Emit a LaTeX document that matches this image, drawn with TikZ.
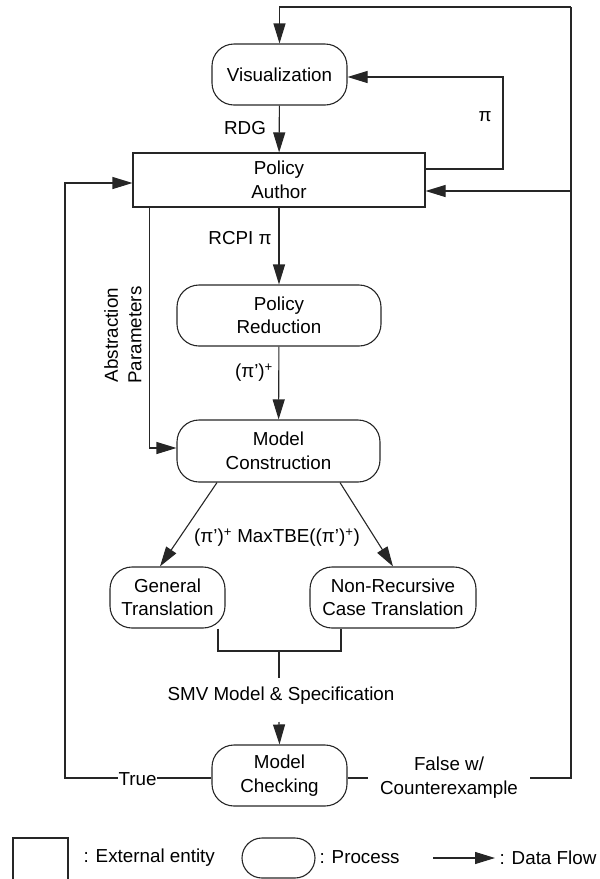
\documentclass[tikz,border=0pt]{standalone}
\usepackage{fontspec}
\setmainfont{Liberation Sans}
\usetikzlibrary{arrows.meta}

\begin{document}
\begin{tikzpicture}[
    x=1pt, y=-1pt,
    line width=1.1pt,
    every node/.style={font=\fontsize{18.8}{23.5}\selectfont, inner sep=0pt},
    line/.style={draw=black!85},
    flow/.style={draw=black!85, -{Triangle[length=20pt,width=12pt]}},
    proc/.style={draw=black!85, rounded corners=22pt, align=center},
    entity/.style={draw=black!85, rectangle, align=center},
    lbl/.style={align=center},
    cut/.style={fill=white, inner xsep=1pt, inner ysep=2pt, align=center}
  ]
  \useasboundingbox (0,0) rectangle (600,879);

  % processes and entity
  \node[proc, minimum width=135pt, minimum height=61pt] (vis) at (279.5,74.5) {Visualization};
  \node[entity, minimum width=292pt, minimum height=54pt] (pa) at (279,180) {Policy\\Author};
  \node[proc, minimum width=204pt, minimum height=61pt] (pr) at (279,315.5) {Policy\\Reduction};
  \node[proc, minimum width=203pt, minimum height=62pt] (mc) at (278.5,451) {Model\\Construction};
  \node[proc, minimum width=115pt, minimum height=61pt] (gt) at (167.5,597.5) {General\\Translation};
  \node[proc, minimum width=166pt, minimum height=61pt] (nr) at (393,597.5) {Non-Recursive\\Case Translation};
  \node[proc, minimum width=135pt, minimum height=61pt] (chk) at (279.5,775.5) {Model\\Checking};

  % main downward flow
  \draw[flow] (vis) -- (pa);
  \node[lbl] (rdg) at (245,128) {RDG};
  \draw[flow] (pa) -- (pr);
  \node[lbl] (rcpi) at (240,238) {RCPI π};
  \draw[flow] (pr) -- (mc);
  \node[lbl] (pip) at (254,373) {(π’)\textsuperscript{+}};

  % abstraction parameters
  \draw[flow] ([xshift=17pt]pa.south west) |- ([yshift=3pt]mc.west);
  \node[lbl, rotate=90] (abs) at (123,335) {Abstraction\\Parameters};

  % branch to the two translations
  \draw[flow] ([xshift=-61.5pt]mc.south) -- ([xshift=-7.5pt]gt.north);
  \draw[flow] ([xshift=61.5pt]mc.south) -- (nr.north);
  \node[lbl] (tbe) at (277,538) {(π’)\textsuperscript{+} MaxTBE((π’)\textsuperscript{+})};

  % merge into the model checker
  \coordinate (jl) at (218,651);
  \coordinate (jr) at (341,651);
  \coordinate (jm) at (279,651);
  \coordinate (jb) at (279,678);
  \coordinate (ja) at (279,722);
  \draw[line] ([xshift=50.5pt]gt.south) -- (jl) -- (jr) -- ([xshift=-52pt]nr.south);
  \draw[line] (jm) -- (jb);
  \node[lbl] (smv) at (281,696) {SMV Model \& Specification};
  \draw[flow] (ja) -- (chk.north);

  % feedback from policy author to visualization
  \coordinate (pic) at (503,77);
  \draw[flow] ([yshift=11pt]pa.east) -| (pic) -- ([yshift=-2.5pt]vis.east);
  \node[lbl] (pi) at (485,117) {π};

  % true: back to the policy author
  \coordinate (tl) at (65,778);
  \draw[flow] ([yshift=-2.5pt]chk.west) -- (tl) |- ([yshift=-3pt]pa.west);
  \node[cut] (true) at (137.5,779) {True};

  % false with counterexample: back to author and visualization
  \coordinate (fr) at (571,778);
  \coordinate (ft) at (571,7);
  \coordinate (fb) at (571,191);
  \draw[line] ([yshift=-2.5pt]chk.east) -- (fr) -- (ft);
  \draw[flow] (ft) -| (vis.north);
  \draw[flow] (fb) -- ([yshift=-11pt]pa.east);
  \node[cut, inner xsep=12pt] (false) at (449,777.5) {False w/\\Counterexample};

  % legend
  \draw[line] (13,882) -- (13,838) -- (68,838) -- (68,882);
  \node[anchor=west] (lext) at (83,858) {: External entity};
  \draw[line, rounded corners=20pt] (242,838) rectangle (315,878);
  \node[anchor=west] (lproc) at (319,857) {: Process};
  \coordinate (la) at (433,858);
  \coordinate (lb) at (495,858);
  \draw[flow] (la) -- (lb);
  \node[anchor=west] (lflow) at (499,858) {: Data Flow};
\end{tikzpicture}
\end{document}
